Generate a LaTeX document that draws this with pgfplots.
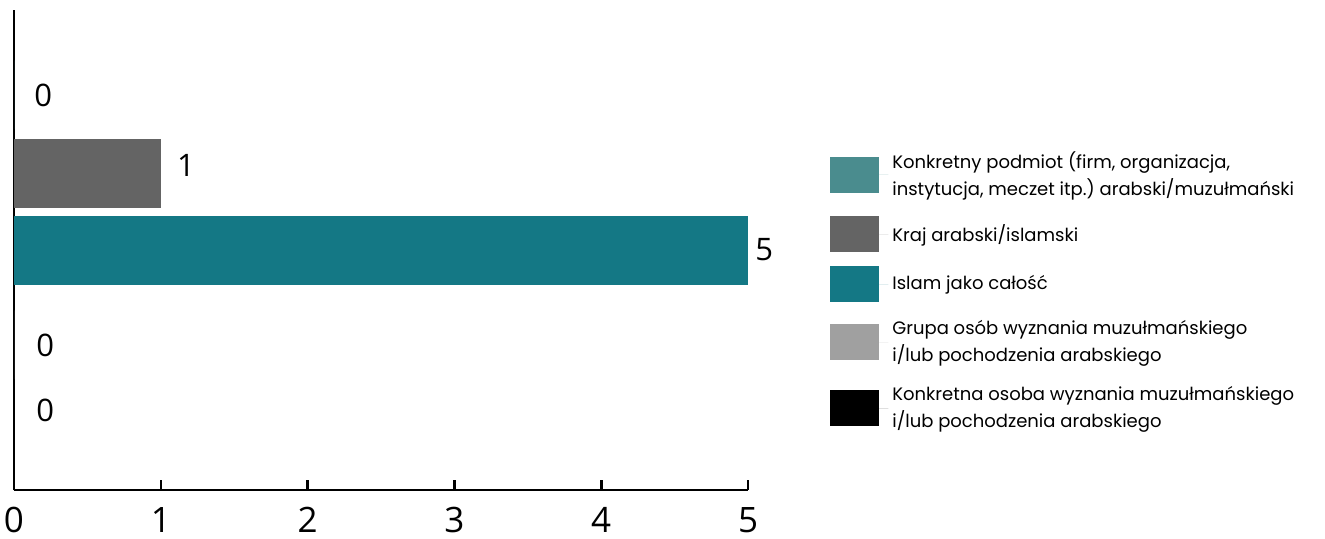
\documentclass[border=0pt]{standalone}
\usepackage{pgfplots}
\pgfplotsset{compat=1.18}
\usepackage{fontspec}
\setmainfont{Poppins}
\newfontfamily\numfont{Open Sans}
\frenchspacing
\definecolor{cA}{HTML}{4A8C8E}
\definecolor{cB}{HTML}{646464}
\definecolor{cC}{HTML}{147885}
\definecolor{cD}{HTML}{A0A0A0}
\definecolor{cE}{HTML}{000000}
\begin{document}
\begin{tikzpicture}
\begin{axis}[
  name=main,
  scale only axis,
  width=367pt, height=240pt,
  xmin=0, xmax=5, ymin=0, ymax=480,
  xbar, bar width=69, bar shift=0pt,
  axis lines=left,
  axis line style={-, line width=1.3pt, black},
  xtick={0,1,2,3,4,5},
  xticklabels={0,1,2,3,4,5},
  ytick=\empty,
  tick align=inside,
  major tick length=5pt,
  tick style={line width=1.3pt, black},
  xticklabel style={font=\numfont\fontsize{17.5}{17.5}\selectfont, inner sep=0pt, yshift=-8.5pt},
  /pgf/number format/assume math mode=true,
  nodes near coords,
  nodes near coords style={font=\numfont\fontsize{15.5}{15.5}\selectfont, anchor=west, inner sep=0pt, text=black},
  legend cell align=left,
  legend image code/.code={\fill[#1] (0pt,-9pt) rectangle (24.5pt,9pt); \path (0pt,0pt) -- (29pt,0pt);},
  legend style={draw=none, fill=none, at={(rel axis cs:1.1035,0.7229)}, anchor=north west,
    font=\fontsize{9}{13.5}\selectfont, row sep=7pt,
    cells={align=left}},
]
\addplot[fill=cA, draw=none, nodes near coords style={xshift=10pt}] coordinates {(0,395)};
\addlegendentry{Konkretny podmiot (firm, organizacja,\\instytucja, meczet itp.) arabski/muzułmański}
\addplot[fill=cB, draw=none, nodes near coords style={xshift=8pt, yshift=4.5pt}] coordinates {(1,316)};
\addlegendentry{Kraj arabski/islamski}
\addplot[fill=cC, draw=none, nodes near coords style={xshift=3.5pt, yshift=0.5pt}] coordinates {(5,239)};
\addlegendentry{Islam jako całość}
\addplot[fill=cD, draw=none, nodes near coords style={xshift=11pt}] coordinates {(0,145)};
\addlegendentry{Grupa osób wyznania muzułmańskiego\\i/lub pochodzenia arabskiego}
\addplot[fill=cE, draw=none, nodes near coords style={xshift=11pt}] coordinates {(0,80)};
\addlegendentry{Konkretna osoba wyznania muzułmańskiego\\i/lub pochodzenia arabskiego}
\coordinate (ll) at (rel axis cs:-0.01907,-0.10208);
\coordinate (ur) at (rel axis cs:1.78610,1.02083);
\end{axis}
\pgfresetboundingbox
\path[use as bounding box] (ll) rectangle (ur);
\end{tikzpicture}
\end{document}
